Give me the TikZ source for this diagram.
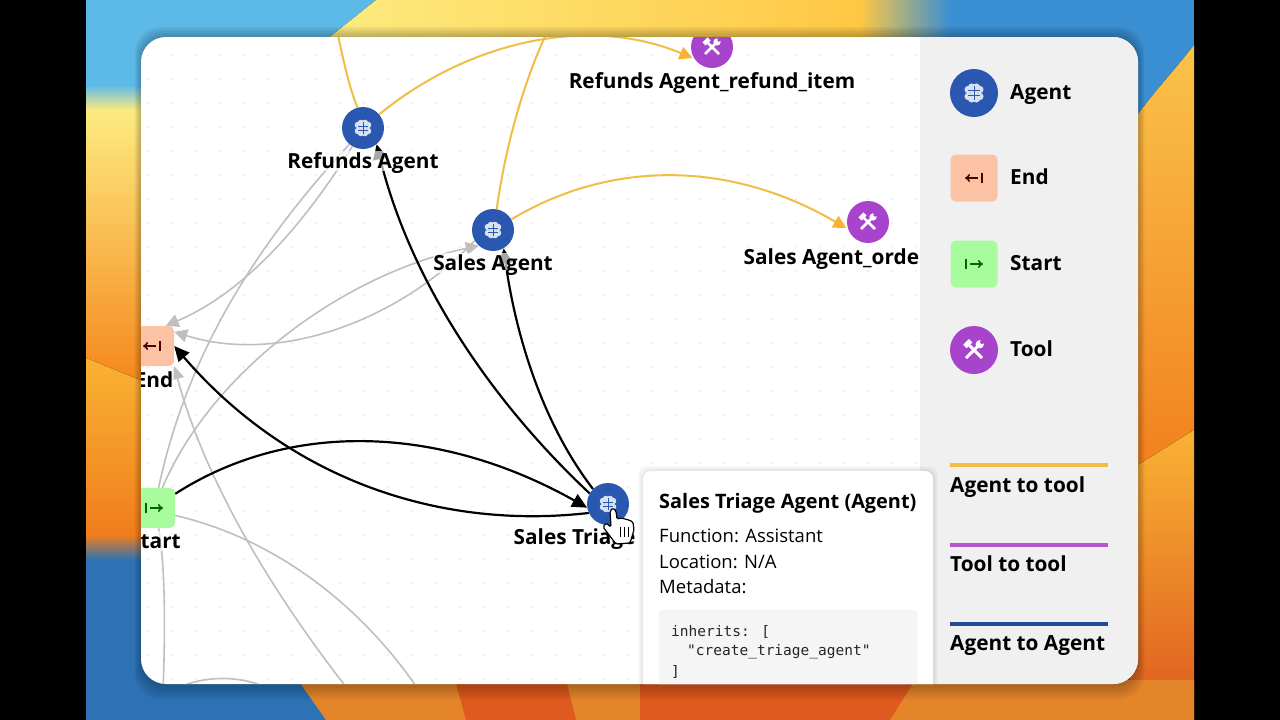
\documentclass[tikz,border=0pt]{standalone}
\usepackage{fontspec}
\setmainfont{Open Sans}
\newfontfamily\codefont{DejaVu Sans Mono}
\usetikzlibrary{arrows.meta,shapes.geometric}
\pgfdeclarelayer{edgelayer}
\pgfsetlayers{edgelayer,main}

\definecolor{agentblue}{HTML}{2A57B0}
\definecolor{toolpurple}{HTML}{A844CC}
\definecolor{endpeach}{HTML}{FBC3A3}
\definecolor{startgreen}{HTML}{A9FC9E}
\definecolor{edgegold}{HTML}{F0BE45}
\definecolor{edgegrey}{HTML}{BFBFBF}
\definecolor{sidegrey}{HTML}{F0F0F1}
\definecolor{wallblue}{HTML}{5DBAE8}
\definecolor{walldeep}{HTML}{2C72B4}
\definecolor{wallmid}{HTML}{3A8FD2}
\definecolor{wallyellow}{HTML}{FDEB80}
\definecolor{wallgold}{HTML}{FFC844}
\definecolor{wallamber}{HTML}{F9B233}
\definecolor{wallorange}{HTML}{F5861C}
\definecolor{wallrust}{HTML}{DE5A1E}
\definecolor{wallclay}{HTML}{E4852A}

\tikzset{
    agentdot/.style={circle,fill=agentblue,minimum size=#1,inner sep=0pt},
    agentdot/.default=42pt,
    tooldot/.style={circle,fill=toolpurple,minimum size=#1,inner sep=0pt},
    tooldot/.default=42pt,
    enddot/.style={rectangle,rounded corners=5pt,fill=endpeach,minimum size=#1,inner sep=0pt},
    enddot/.default=40pt,
    startdot/.style={rectangle,rounded corners=5pt,fill=startgreen,minimum size=#1,inner sep=0pt},
    startdot/.default=40pt,
    graphlabel/.style={font=\fontsize{20.8}{24}\selectfont\bfseries,fill=white,fill opacity=0.65,text opacity=1,inner sep=0.5pt,text height=17pt,text depth=2pt},
    sidelabel/.style={font=\fontsize{20.8}{24}\selectfont\bfseries,anchor=west,inner sep=0pt,text height=17pt,text depth=2pt},
    infotext/.style={font=\fontsize{18.5}{22}\selectfont,anchor=west,inner sep=0pt,text height=17pt,text depth=4pt},
    codetext/.style={font=\fontsize{14.5}{16}\selectfont\codefont,anchor=west,inner sep=0pt,text=black!85},
    goldedge/.style={draw=edgegold,line width=2pt,-{Triangle[length=13pt,width=13pt,color=wallamber]},shorten >=2pt},
    goldfree/.style={draw=edgegold,line width=2pt},
    blackedge/.style={draw=black,line width=2.2pt,-{Triangle[length=15pt,width=14pt]}},
    greyedge/.style={draw=edgegrey,line width=1.6pt,-{Triangle[length=13pt,width=13pt]}},
    greyfree/.style={draw=edgegrey,line width=1.6pt},
}

\newcommand{\brainicon}[3]{%
    \foreach \lobex/\lobey in {-5/-3,-5/3,-2/-5,-2/5,2/-5,2/5,5/-3,5/3,0/0} {
        \fill[white!82!agentblue] (#1+#3*\lobex,#2+#3*\lobey) circle ({#3*3.3pt});
    }%
    \draw[agentblue,line width=#3*0.7pt] (#1,#2-#3*6) -- (#1,#2+#3*6);%
    \draw[agentblue,line width=#3*0.6pt] (#1-#3*5,#2-#3*2) -- (#1+#3*5,#2-#3*2) (#1-#3*5,#2+#3*2) -- (#1+#3*5,#2+#3*2);%
}
\newcommand{\toolicon}[3]{%
    \draw[white,line width=#3*2.6pt] (#1-#3*7,#2+#3*7) -- (#1+#3*4,#2-#3*4);%
    \draw[white,line width=#3*2.6pt] (#1-#3*4,#2-#3*4) -- (#1+#3*7,#2+#3*7);%
    \draw[white,line width=#3*4.4pt] (#1-#3*8,#2-#3*3) -- (#1-#3*3,#2-#3*8);%
    \fill[white] (#1+#3*5,#2-#3*5) circle ({#3*3.6pt});%
    \fill[toolpurple] (#1+#3*7,#2-#3*7) circle ({#3*1.8pt});%
}
\newcommand{\exiticon}[3]{%
    \draw[#3!30!black,line width=1.6pt,-{To[length=5pt,width=8pt]}] (#1+4,#2) -- (#1-9,#2);%
    \draw[#3!30!black,line width=1.6pt] (#1+8,#2-5) -- (#1+8,#2+5);%
}
\newcommand{\entryicon}[3]{%
    \draw[#3!40!black,line width=1.6pt,-{To[length=5pt,width=8pt]}] (#1-4,#2) -- (#1+9,#2);%
    \draw[#3!40!black,line width=1.6pt] (#1-8,#2-5) -- (#1-8,#2+5);%
}

\begin{document}
\begin{tikzpicture}[x=1pt,y=-1pt]
    \useasboundingbox (0,0) rectangle (1280,720);

    \begin{pgfonlayer}{edgelayer}
        % --- Wallpaper ---
        \fill[black] (0,0) rectangle (1280,720);
        \fill[walldeep] (86,0) rectangle (1194,720);
        \fill[wallblue] (86,0) -- (376,0) -- (326,40) -- (86,110) -- cycle;
        \fill[left color=wallyellow,right color=wallgold] (376,0) -- (860,0) -- (860,45) -- (326,45) -- (326,40) -- cycle;
        \fill[left color=wallgold,right color=wallmid] (860,0) rectangle (950,45);
        \fill[wallmid] (950,0) rectangle (1194,130);
        % left strip
        \fill[top color=wallblue,bottom color=wallyellow] (86,85) rectangle (150,110);
        \fill[top color=wallyellow,bottom color=wallorange] (86,110) rectangle (150,385);
        \fill[top color=wallamber,bottom color=wallorange!80!wallrust] (86,358) -- (150,384) -- (150,535) -- (86,535) -- cycle;
        \fill[top color=wallorange!80!wallrust,bottom color=walldeep] (86,535) rectangle (150,560);
        % right strip
        \fill[top color=wallamber!70!wallyellow,bottom color=wallorange!85!wallrust] (1130,125) .. controls (1155,90) and (1175,70) .. (1194,45) -- (1194,430) -- (1130,475) -- cycle;
        \fill[top color=wallamber,bottom color=wallrust] (1130,470) -- (1194,430) -- (1194,720) -- (1130,720) -- cycle;
        % bottom strip
        \fill[wallclay] (298,680) -- (1194,680) -- (1194,720) -- (326,720) -- cycle;
        \fill[wallrust] (455,680) -- (566,680) -- (576,720) -- (466,720) -- cycle;
        \fill[wallrust] (640,680) -- (915,680) -- (890,720) -- (640,720) -- cycle;

        % --- Panel shadow ---
        \foreach \grow in {1,3,...,13} {
            \fill[black,opacity=0.04,rounded corners=26pt] (141-\grow*0.5,37-\grow*0.8) rectangle (1138+\grow*0.5,684+\grow*1.2);
        }
        \fill[white,rounded corners=25pt] (141,37) rectangle (1138,684);

        % --- Dots and edges stay inside the panel ---
        \clip[rounded corners=25pt] (141,37) rectangle (1138,684);
        \foreach \dotx in {148,172,...,916} {
            \foreach \doty in {55,79,...,679} {
                \fill[black!7] (\dotx,\doty) circle (1.1pt);
            }
        }
    \end{pgfonlayer}

    \begin{scope}
        \clip[rounded corners=25pt] (141,37) rectangle (1138,684);

        % --- Graph nodes ---
        \node[agentdot] (refunds) at (363,128) {};
        \brainicon{363}{128}{1}
        \node[graphlabel,yshift=-33pt] (refundslabel) at (refunds) {Refunds Agent};

        \node[agentdot] (sales) at (493,230) {};
        \brainicon{493}{230}{1}
        \node[graphlabel,yshift=-33pt] (saleslabel) at (sales) {Sales Agent};

        \node[agentdot] (triage) at (608,504) {};
        \brainicon{608}{504}{1}
        \node[graphlabel,anchor=west] (triagelabel) at (513,537) {Sales Triage};

        \node[tooldot] (refundtool) at (712,47) {};
        \toolicon{712}{47}{1}
        \node[graphlabel,yshift=-34pt] (refundtoollabel) at (refundtool) {Refunds Agent\_refund\_item};

        \node[tooldot] (ordertool) at (868,222) {};
        \toolicon{868}{222}{1}
        \node[graphlabel,anchor=west] (ordertoollabel) at (743,257) {Sales Agent\_orde};

        \node[enddot] (endbox) at (154,346) {};
        \exiticon{152}{346}{red}
        \node[graphlabel,yshift=-34pt] (endlabel) at (endbox) {End};

        \node[startdot] (startbox) at (155,508) {};
        \entryicon{154}{508}{green}
        \node[graphlabel,yshift=-33pt] (startlabel) at (startbox) {Start};

        % --- Hand cursor ---
        \draw[black,fill=white,line width=1.2pt,rounded corners=1.5pt] (610,511) -- (613,508) -- (616,511) -- (617,519) -- (621,518) -- (625,519) -- (629,520) -- (633,522) -- (634,530) -- (630,543) -- (616,544) -- (603,527) -- (606,523) -- (611,527) -- cycle;
        \draw[black,line width=1pt] (620,527) -- (620,537) (624,527) -- (624,537) (628,527) -- (628,537);

        % --- Sidebar ---
        \fill[sidegrey] (920,37) rectangle (1138,684);
        \node[agentdot=48pt] (legendagent) at (974,93) {};
        \brainicon{974}{93}{1.15}
        \node[sidelabel] (legendagentlabel) at (1010,92) {Agent};
        \node[enddot=47pt] (legendend) at (974,178) {};
        \exiticon{974}{178}{red}
        \node[sidelabel] (legendendlabel) at (1010,177) {End};
        \node[startdot=47pt] (legendstart) at (974,264) {};
        \entryicon{974}{264}{green}
        \node[sidelabel] (legendstartlabel) at (1010,263) {Start};
        \node[tooldot=48pt] (legendtool) at (974,350) {};
        \toolicon{974}{350}{1.15}
        \node[sidelabel] (legendtoollabel) at (1010,349) {Tool};

        \draw[edgegold,line width=3.5pt] (950,465) -- (1108,465);
        \node[sidelabel] (goldlabel) at (950,485) {Agent to tool};
        \draw[toolpurple!85!pink,line width=3.5pt] (950,545) -- (1108,545);
        \node[sidelabel] (purplelabel) at (950,564) {Tool to tool};
        \draw[agentblue!85!black,line width=3.5pt] (950,624) -- (1108,624);
        \node[sidelabel] (bluelabel) at (950,643) {Agent to Agent};

        % --- Tooltip ---
        \foreach \grow in {1,2,...,5} {
            \fill[black,opacity=0.02,rounded corners=9pt] (643-\grow,471-\grow) rectangle (933+\grow,720);
        }
        \fill[white,rounded corners=8pt] (643,471) rectangle (933,720);
        \node[sidelabel,font=\fontsize{19.9}{22}\selectfont\bfseries] (tiptitle) at (659,501) {Sales Triage Agent (Agent)};
        \node[infotext] (tipfunction) at (659,536) {Function: Assistant};
        \node[infotext] (tiplocation) at (659,562) {Location: N/A};
        \node[infotext] (tipmeta) at (659,587) {Metadata:};
        \fill[sidegrey!70!white,rounded corners=3pt] (659,610) rectangle (917,720);
        \node[codetext] (codeone) at (671,632) {inherits: [};
        \node[codetext] (codetwo) at (687,652) {"create\_triage\_agent"};
        \node[codetext] (codethree) at (671,672) {]};
    \end{scope}

    % --- Free ends outside the panel ---
    \coordinate (refundsup) at (337,30);
    \coordinate (salesup) at (548,30);
    \coordinate (downone) at (350,692);
    \coordinate (downtwo) at (420,692);
    \coordinate (downthree) at (163,692);
    \coordinate (arcleft) at (170,692);
    \coordinate (arcright) at (275,692);

    \begin{pgfonlayer}{edgelayer}
        % --- Grey edges ---
        \draw[greyedge] (refunds.240) .. controls (310,215) and (250,290) .. (endbox.60);
        \draw[greyfree] (startbox.80) .. controls (190,340) and (270,230) .. (refunds.230);
        \draw[greyedge] (startbox.70) .. controls (210,375) and (340,275) .. (sales.228);
        \draw[greyedge] (sales.210) .. controls (400,320) and (280,365) .. (endbox.35);
        \draw[greyedge] (downone) .. controls (270,590) and (205,480) .. (endbox.-45);
        \draw[greyfree] (startbox.-20) .. controls (280,540) and (365,610) .. (downtwo);
        \draw[greyfree] (startbox.-80) .. controls (166,570) and (165,640) .. (downthree);
        \draw[greyfree] (arcleft) .. controls (200,674) and (245,674) .. (arcright);

        % --- Gold edges ---
        \draw[goldfree] (refunds.105) .. controls (350,90) and (343,60) .. (refundsup);
        \draw[goldfree] (sales.80) .. controls (505,150) and (522,85) .. (salesup);
        \draw[goldedge] (refunds.40) .. controls (470,40) and (590,15) .. (refundtool.214);
        \draw[goldedge] (sales.30) .. controls (610,160) and (730,160) .. (ordertool.200);

        % --- Black edges ---
        \draw[blackedge] (triage.150) .. controls (490,400) and (410,280) .. (refunds.-50);
        \draw[blackedge] (triage.135) .. controls (540,420) and (515,330) .. (sales.-60);
        \draw[blackedge] (startbox.35) .. controls (290,420) and (440,425) .. (triage.190);
        \draw[blackedge] (triage.205) .. controls (440,530) and (290,480) .. (endbox.east);
    \end{pgfonlayer}
\end{tikzpicture}
\end{document}
